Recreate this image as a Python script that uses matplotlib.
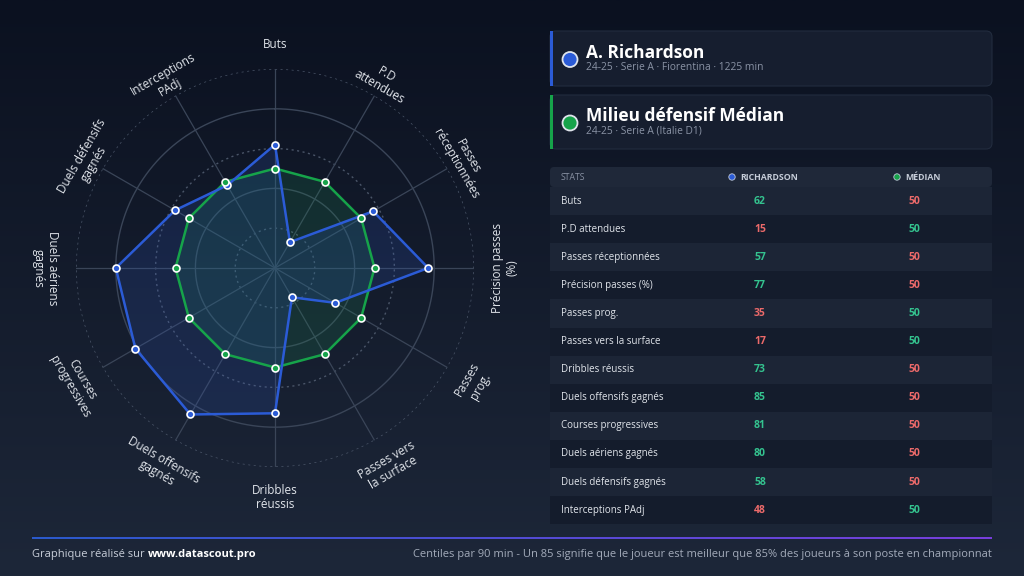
import numpy as np
import matplotlib
matplotlib.use("Agg")
import matplotlib.pyplot as plt
from matplotlib.patches import FancyBboxPatch, Rectangle, Circle
from matplotlib.colors import LinearSegmentedColormap

plt.rcParams['font.family'] = ['Open Sans', 'DejaVu Sans']

# data
categories = ["Buts", "P.D attendues", "Passes réceptionnées", "Précision passes (%)",
              "Passes prog.", "Passes vers la surface", "Dribbles réussis",
              "Duels offensifs gagnés", "Courses progressives", "Duels aériens gagnés",
              "Duels défensifs gagnés", "Interceptions PAdj"]
radar_labels = ["Buts", "P.D\nattendues", "Passes\nréceptionnées", "Précision passes\n(%)",
                "Passes\nprog.", "Passes vers\nla surface", "Dribbles\nréussis",
                "Duels offensifs\ngagnés", "Courses\nprogressives", "Duels aériens\ngagnés",
                "Duels défensifs\ngagnés", "Interceptions\nPAdj"]
player_vals = [62, 15, 57, 77, 35, 17, 73, 85, 81, 80, 58, 48]
median_vals = [50] * 12

player_name = "A. Richardson"
player_sub = "24-25 · Serie A · Fiorentina · 1225 min"
median_name = "Milieu défensif Médian"
median_sub = "24-25 · Serie A (Italie D1)"

BLUE = "#2b5bd6"
GREEN = "#16a34a"
UP = "#34c38f"
DOWN = "#ec6a6a"
GRID = "#3a4558"
TXT = "#e1e5eb"
SUB = "#8a93a5"

W, H = 1024, 576
fig = plt.figure(figsize=(W / 100, H / 100), dpi=100)

# background + overlay axes in pixel coords
bg = fig.add_axes([0, 0, 1, 1])
bg.set_xlim(0, W)
bg.set_ylim(H, 0)
bg.axis("off")
grad = LinearSegmentedColormap.from_list("bg", ["#0b1120", "#1d2739"])
bg.imshow(np.linspace(0, 1, 256).reshape(-1, 1), cmap=grad, aspect="auto",
          extent=[0, W, H, 0], zorder=0)

# radar
cx, cy, R = 275, 268, 199
ax = fig.add_axes([(cx - R) / W, (H - cy - R) / H, 2 * R / W, 2 * R / H], projection="polar")
ax.set_facecolor("none")
ax.set_theta_zero_location("N")
ax.set_theta_direction(-1)
ax.set_ylim(0, 100)
ax.set_xticks([])
ax.set_yticks([])
ax.grid(False)
ax.spines["polar"].set_visible(False)

n = len(categories)
angles = np.arange(n) * 2 * np.pi / n
ring_t = np.linspace(0, 2 * np.pi, 361)
for r in [20, 40, 60, 80, 100]:
    if r in (40, 80):
        ax.plot(ring_t, [r] * len(ring_t), color=GRID, lw=1.0, zorder=1)
    else:
        ax.plot(ring_t, [r] * len(ring_t), color="#4a5568", lw=1.0, ls=(0, (1.5, 2.5)), zorder=1)
for a in angles:
    ax.plot([a, a], [0, 100], color=GRID, lw=0.9, zorder=1)

a_closed = np.append(angles, angles[0])
m_closed = np.append(median_vals, median_vals[0])
p_closed = np.append(player_vals, player_vals[0])

ax.fill(a_closed, m_closed, color="#1f8a55", alpha=0.2, zorder=2)
ax.fill(a_closed, p_closed, color="#2f55b8", alpha=0.2, zorder=2)
ax.plot(a_closed, m_closed, color=GREEN, lw=1.8, zorder=3)
ax.plot(a_closed, p_closed, color=BLUE, lw=1.8, zorder=4)
ax.plot(angles, player_vals, "o", ms=5, mfc=BLUE, mec="white", mew=1.2, zorder=5)
ax.plot(angles, median_vals, "o", ms=5, mfc=GREEN, mec="white", mew=1.2, zorder=6)

for a, lab in zip(angles, radar_labels):
    deg = np.degrees(a)
    if 90 <= deg <= 270:
        rot = 180 - deg
        rr = 108.5
    else:
        rot = -deg if deg < 90 else 360 - deg
        rr = 115.5
    ax.text(a, rr, lab, rotation=rot, rotation_mode="anchor", ha="center", va="top",
            fontsize=8.5, color=TXT, linespacing=1.15, clip_on=False)

# header cards
def card(y0, h, color, name, sub):
    bg.add_patch(FancyBboxPatch((550, y0), 442, h, boxstyle="round,pad=0,rounding_size=6",
                                fc="#161e2f", ec="#222c3e", lw=0.8, zorder=2))
    bg.add_patch(Rectangle((550, y0), 3, h, fc=color, ec="none", zorder=3))
    bg.add_patch(Circle((570, y0 + h / 2 + 1), 7.5, fc=color, ec="#dfe4ec", lw=1.3, zorder=3))
    bg.text(586, y0 + h / 2 - 6, name, fontsize=12.5, fontweight="bold", color="white",
            va="center", ha="left", zorder=4)
    bg.text(586, y0 + h / 2 + 9, sub, fontsize=7.4, color=SUB, va="center", ha="left", zorder=4)

card(31, 55, BLUE, player_name, player_sub)
card(95, 54, GREEN, median_name, median_sub)

# table
tx0, tw = 550, 442
col_p, col_m = 760, 914
bg.add_patch(FancyBboxPatch((tx0, 167), tw, 20, boxstyle="round,pad=0,rounding_size=4",
                            fc="#1f2839", ec="none", zorder=2))
bg.text(561, 177, "STATS", fontsize=6.2, color=SUB, va="center", ha="left", zorder=4)
bg.add_patch(Circle((732, 177), 3.2, fc=BLUE, ec="#c0c8d8", lw=0.6, zorder=4))
bg.text(740, 177, "RICHARDSON", fontsize=6.3, fontweight="bold", color="#c5ccd8",
        va="center", ha="left", zorder=4)
bg.add_patch(Circle((897, 177), 3.2, fc=GREEN, ec="#c0c8d8", lw=0.6, zorder=4))
bg.text(905, 177, "MÉDIAN", fontsize=6.3, fontweight="bold", color="#c5ccd8",
        va="center", ha="left", zorder=4)

row_h = 28.1
y = 187
for i, (cat, pv, mv) in enumerate(zip(categories, player_vals, median_vals)):
    fc = "#1c2536" if i % 2 == 0 else "#141c2c"
    bg.add_patch(Rectangle((tx0, y), tw, row_h, fc=fc, ec="none", zorder=2))
    yc = y + row_h / 2
    bg.text(561, yc, cat, fontsize=7, color=TXT, va="center", ha="left", zorder=4)
    bg.text(col_p, yc, str(pv), fontsize=7.5, fontweight="bold",
            color=UP if pv > mv else DOWN, va="center", ha="center", zorder=4)
    bg.text(col_m, yc, str(mv), fontsize=7.5, fontweight="bold",
            color=UP if mv > pv else DOWN, va="center", ha="center", zorder=4)
    y += row_h

# footer
line_x = np.linspace(32, 992, 300)
fcmap = LinearSegmentedColormap.from_list("ft", ["#2b5bd0", "#7a3fe0"])
for k in range(len(line_x) - 1):
    bg.plot(line_x[k:k + 2], [538, 538], color=fcmap(k / (len(line_x) - 2)), lw=1.4,
            solid_capstyle="butt", zorder=3)
t1 = bg.text(32, 555, "Graphique réalisé sur ", fontsize=8, color="#c8ced9",
             va="center", ha="left", zorder=4)
bg.annotate("www.datascout.pro", xy=(1, 0.5), xycoords=t1, va="center", ha="left",
            fontsize=8, fontweight="bold", color="white", zorder=4)
bg.text(992, 555, "Centiles par 90 min - Un 85 signifie que le joueur est meilleur que 85% "
        "des joueurs à son poste en championnat", fontsize=8, color="#a3abba",
        va="center", ha="right", zorder=4)

fig.savefig("out.png", dpi=100, facecolor="#0b1120")
